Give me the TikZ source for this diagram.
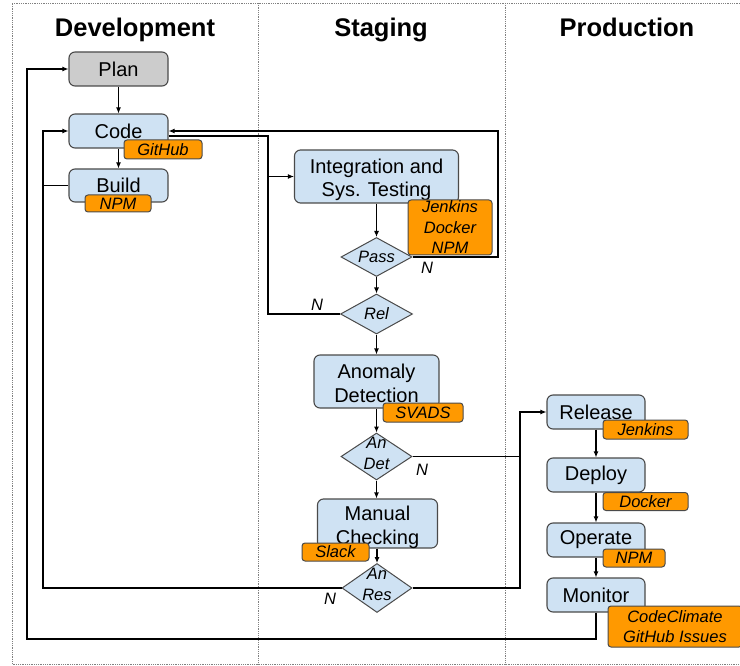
\documentclass[tikz,border=0pt]{standalone}
\usepackage{fontspec}
\setmainfont{Liberation Sans}
\usetikzlibrary{shapes.geometric,arrows.meta}
\definecolor{boxblue}{HTML}{CFE2F3}
\definecolor{tagorange}{HTML}{FF9900}
\definecolor{plangray}{HTML}{CCCCCC}
\definecolor{edgegray}{HTML}{4A4A4A}

\begin{document}
\begin{tikzpicture}[x=1pt, y=-1pt,
  box/.style={draw=edgegray, line width=1.1pt, fill=boxblue, rounded corners=6pt, inner sep=0pt, align=center, font=\fontsize{20}{23.5}\selectfont},
  twoline/.style={text height=41pt, text depth=0pt},
  tag/.style={draw=edgegray, line width=1pt, fill=tagorange, rounded corners=3pt, inner sep=0pt, align=center, font=\fontsize{16.5}{20.5}\selectfont\itshape},
  dia/.style={diamond, draw=edgegray, line width=1pt, fill=boxblue, inner sep=0pt},
  diatext/.style={align=center, font=\fontsize{16.5}{21}\selectfont\itshape},
  title/.style={anchor=base, font=\fontsize{25.5}{30}\selectfont\bfseries},
  lab/.style={font=\fontsize{16.5}{20}\selectfont\itshape},
  frame/.style={gray, densely dotted, line width=0.8pt},
  conn/.style={line width=1.1pt},
  arr/.style={conn, -{Latex[length=6pt,width=5pt]}}]

\useasboundingbox (0,0) rectangle (740,666);

\draw [frame] (740,3) -- (12,3) -- (12,664) -- (740,664);
\draw [frame] (258,3) -- (258,664);
\draw [frame] (505,3) -- (505,664);

\node [title] (devtitle) at (135,37) {Development};
\node [title] (stagetitle) at (381,37) {Staging};
\node [title] (prodtitle) at (627,37) {Production};

\node [box, fill=plangray, minimum width=99pt, minimum height=34pt] (plan) at (118.5,69) {Plan};
\node [box, minimum width=99pt, minimum height=34pt] (code) at (118.5,131) {Code};
\node [box, minimum width=99pt, minimum height=33pt] (build) at (118.5,185.5) {Build};

\node [box, twoline, minimum width=164pt, minimum height=53pt] (integ) at (376.5,176.5) {Integration and\\Sys. Testing};
\node [dia, minimum width=71pt, minimum height=39pt] (pass) at (376.5,257) {};
\node [dia, minimum width=72pt, minimum height=40pt] (rel) at (376.5,314) {};
\node [box, twoline, minimum width=125pt, minimum height=53pt] (anomaly) at (376.5,381.5) {Anomaly\\Detection};
\node [dia, minimum width=71pt, minimum height=47pt] (andet) at (376.5,456.5) {};
\node [box, twoline, minimum width=120pt, minimum height=49pt] (manual) at (377.5,523.5) {Manual\\Checking};
\node [dia, minimum width=70pt, minimum height=49pt] (anres) at (377,588) {};

\node [diatext] (passtext) at (pass) {Pass};
\node [diatext] (reltext) at (rel) {Rel};
\node [diatext] (andettext) at ([yshift=3pt]andet) {An\\Det};
\node [diatext] (anrestext) at ([yshift=4pt]anres) {An\\Res};

\node [box, minimum width=98pt, minimum height=34pt] (release) at (596,412) {Release};
\node [box, minimum width=98pt, minimum height=34pt] (deploy) at (596,475) {Deploy};
\node [box, minimum width=98pt, minimum height=34pt] (operate) at (596,540) {Operate};
\node [box, minimum width=98pt, minimum height=34pt] (monitor) at (596,595) {Monitor};

\coordinate (loopO) at (27,639);
\coordinate (loopL) at (43,0);
\coordinate (busL) at (268,0);
\coordinate (loopR) at (498,0);
\coordinate (busR) at (520,0);

\draw [arr] (plan) -- (code);
\draw [arr] (code) -- (build);
\draw [arr] (integ) -- (pass);
\draw [arr] (pass) -- (rel);
\draw [arr] (rel) -- (anomaly);
\draw [arr] (anomaly) -- (andet);
\draw [arr] (andet) -- (andet |- manual.north);
\draw [arr] (manual.south -| anres.north) -- (anres.north);
\draw [arr] (release) -- (deploy);
\draw [arr] (deploy) -- (operate);
\draw [arr] (operate) -- (monitor);

\draw [arr] (anres.west) -| (loopL |- code.west) -- (code.west);
\draw [conn] (build.west) -- (build.west -| loopL);
\draw [arr] (monitor.south) |- (loopO) |- (plan.west);
\draw [arr] (pass.east) -| (loopR |- code.east) -- (code.east);
\draw [arr] ([yshift=-5pt]code.east) -| (busL |- integ.west) -- (integ.west);
\draw [conn] (rel.west) -| (busL |- integ.west);
\draw [arr] (andet.east) -| (busR |- release.west) -- (release.west);
\draw [conn] (anres.east) -| (busR |- andet.east);

\node [lab] (npass) at (427,268) {N};
\node [lab] (nrel) at (317,305) {N};
\node [lab] (nandet) at (422,470) {N};
\node [lab] (nanres) at (330,599) {N};

\node [tag, minimum width=78pt, minimum height=19pt] (github) at (163,149.5) {GitHub};
\node [tag, minimum width=66pt, minimum height=17pt] (npmbuild) at (118,203.5) {NPM};
\node [tag, minimum width=84pt, minimum height=55pt] (ci) at (450,227.5) {Jenkins\\Docker\\NPM};
\node [tag, minimum width=80pt, minimum height=19pt] (svads) at (423,412.5) {SVADS};
\node [tag, minimum width=67pt, minimum height=18pt] (slack) at (335.5,552) {Slack};
\node [tag, minimum width=85pt, minimum height=19pt] (jenkins) at (645.5,429.5) {Jenkins};
\node [tag, minimum width=85pt, minimum height=18pt] (docker) at (645.5,501.5) {Docker};
\node [tag, minimum width=62pt, minimum height=18pt] (npmop) at (634,558) {NPM};
\node [tag, minimum width=134pt, minimum height=41pt] (issues) at (675,626.5) {CodeClimate\\GitHub Issues};

\end{tikzpicture}
\end{document}
